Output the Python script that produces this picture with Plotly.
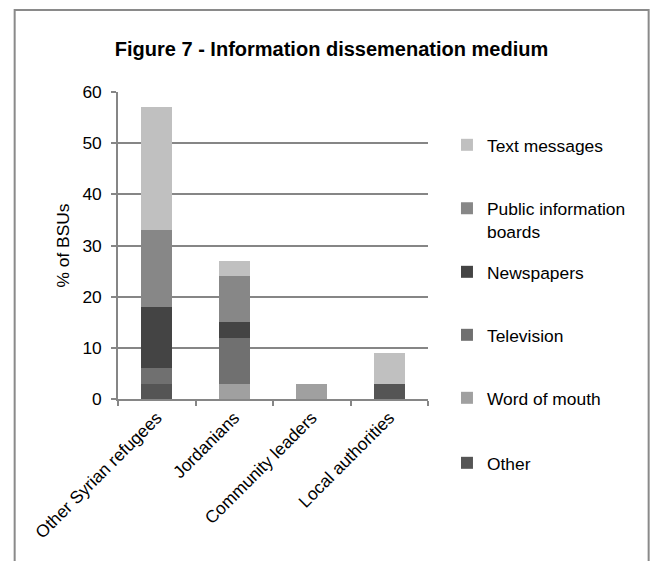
import plotly.graph_objects as go

categories = ["Other Syrian refugees", "Jordanians", "Community leaders", "Local authorities"]

# stacked from the bottom up
other = [3, 0, 0, 3]
word_of_mouth = [0, 3, 3, 0]
television = [3, 9, 0, 0]
newspapers = [12, 3, 0, 0]
public_boards = [15, 9, 0, 0]
text_messages = [24, 3, 0, 6]

series = [
    ("Other", other, "#555555"),
    ("Word of mouth", word_of_mouth, "#a0a0a0"),
    ("Television", television, "#707070"),
    ("Newspapers", newspapers, "#444444"),
    ("Public information<br>boards", public_boards, "#878787"),
    ("Text messages", text_messages, "#c0c0c0"),
]

FONT = "Liberation Sans, Arial, sans-serif"
FS = 17.4

W, H = 654, 561
L, R, T, B = 117.5, 226, 92, 162
pw, ph = W - L - R, H - T - B


def px_x(p):
    return (p - L) / pw


def px_y(p):
    return (H - B - p) / ph


# vertical centre (px) of each legend entry, top entry last in the stack
legend_centres = [463, 398, 335, 272, 220, 145]

fig = go.Figure()
legends = {}
for i, ((name, vals, col), yc) in enumerate(zip(series, legend_centres)):
    key = "legend" if i == 0 else f"legend{i + 1}"
    fig.add_trace(go.Bar(
        x=categories, y=vals, name=name, legend=key,
        marker=dict(color=col, line=dict(width=0)), width=0.4,
    ))
    legends[key] = dict(
        x=px_x(447), xanchor="left", y=px_y(yc), yanchor="middle",
        font=dict(family=FONT, size=FS, color="#000000"),
        bgcolor="rgba(0,0,0,0)", valign="top",
    )

fig.update_layout(
    width=W, height=H,
    margin=dict(l=L, r=R, t=T, b=B, pad=0),
    barmode="stack",
    plot_bgcolor="white", paper_bgcolor="white",
    font=dict(family=FONT, size=FS, color="#000000"),
    title=dict(
        text="<b>Figure 7 - Information dissemenation medium</b>",
        x=331.5 / W, xanchor="center", y=1 - 48.5 / H, yanchor="middle",
        font=dict(family=FONT, size=20, color="#000000"),
    ),
    showlegend=True,
    xaxis=dict(
        range=[-0.5, 3.5], tickson="boundaries", ticks="outside", ticklen=5,
        tickcolor="#868686", tickwidth=1.5,
        showline=True, linecolor="#868686", linewidth=1.5,
        tickangle=-45, showgrid=False,
        tickfont=dict(family=FONT, size=FS),
    ),
    yaxis=dict(
        range=[0, 60], dtick=10, ticks="outside", ticklen=5,
        tickcolor="#868686", tickwidth=1.5,
        showline=True, linecolor="#868686", linewidth=1.5,
        showgrid=True, gridcolor="#868686", gridwidth=1.5,
        zeroline=False, ticklabelstandoff=6,
        title=dict(text="% of BSUs", standoff=8, font=dict(family=FONT, size=FS)),
        tickfont=dict(family=FONT, size=FS),
    ),
    shapes=[dict(
        type="rect", xref="paper", yref="paper",
        x0=px_x(14), x1=px_x(649), y0=px_y(600), y1=px_y(10),
        line=dict(color="#8a8a8a", width=2), fillcolor="rgba(0,0,0,0)", layer="below",
    )],
    **legends,
)

fig.write_html("out.html")
